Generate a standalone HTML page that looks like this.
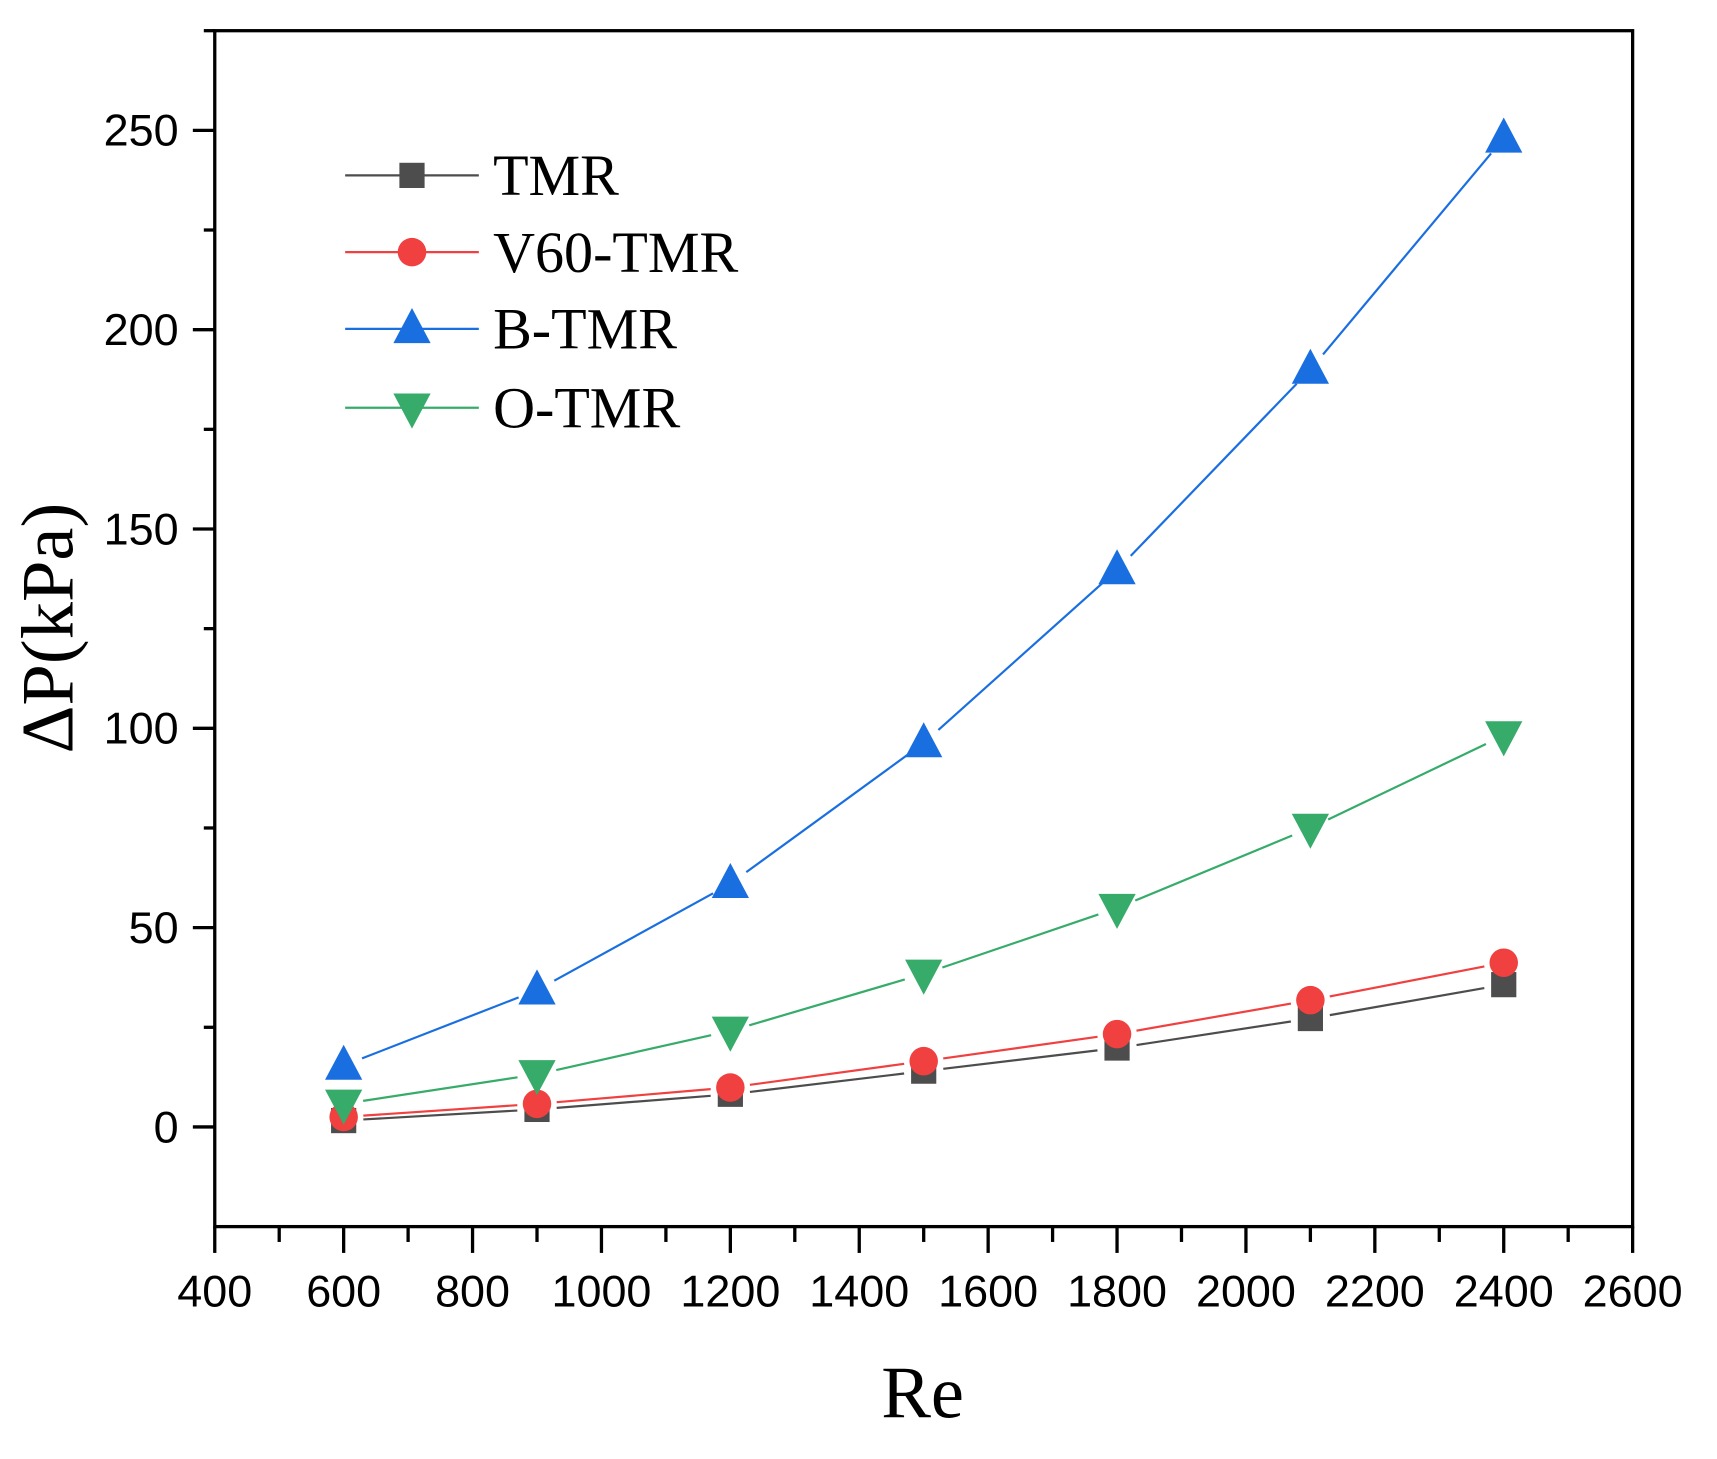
<!DOCTYPE html>
<html><head><meta charset="utf-8"><style>
html,body{margin:0;padding:0;background:#fff}
svg{display:block}
</style></head><body>
<svg id="chart" width="1717" height="1459" viewBox="0 0 1567 1331" preserveAspectRatio="none" xmlns="http://www.w3.org/2000/svg">
<rect width="1567" height="1331" fill="#fff"/>
<g id="axes"></g>
<g id="series"></g>
<g id="legend"></g>
<text x="842" y="1293" font-family="Liberation Serif, serif" font-size="68" text-anchor="middle">Re</text>
<text transform="translate(66,573) rotate(-90)" font-family="Liberation Serif, serif" font-size="68" text-anchor="middle">ΔP(kPa)</text>
</svg>
<script>
const categories = [600, 900, 1200, 1500, 1800, 2100, 2400];
const tmrValues = [1.6, 4.4, 8.2, 14.0, 19.8, 27.2, 35.7];
const v60Values = [2.5, 5.8, 9.9, 16.5, 23.3, 31.8, 41.2];
const bValues = [15.4, 34.3, 61.0, 96.3, 139.7, 190.0, 248.0];
const oValues = [5.8, 13.2, 24.1, 38.4, 54.9, 75.0, 98.2];
const xTickLabels = [400, 600, 800, 1000, 1200, 1400, 1600, 1800, 2000, 2200, 2400, 2600];
const yTickLabels = [0, 50, 100, 150, 200, 250];

const NS = "http://www.w3.org/2000/svg";
const L = 196, R = 1490, T = 28, B = 1119;
const xMin = 400, xMax = 2600, yMin = -25, yMax = 275;
const xs = v => L + (v - xMin) / (xMax - xMin) * (R - L);
const ys = v => B - (v - yMin) / (yMax - yMin) * (B - T);
function mk(tag, attrs, parent) { const e = document.createElementNS(NS, tag); for (const k in attrs) e.setAttribute(k, attrs[k]); parent.appendChild(e); return e; }

const axes = document.getElementById('axes');
const frame = mk('rect', {x: L, y: T, width: R - L, height: B - T, fill: 'none', stroke: '#000', 'stroke-width': 3}, axes);


for (let v = 400; v <= 2600; v += 100) {
  const major = v % 200 === 0;
  const t = mk('line', {x1: xs(v), x2: xs(v), y1: B, y2: B + (major ? 24 : 14), stroke: '#000', 'stroke-width': 3}, axes);
  
  
}
xTickLabels.forEach(v => {
  const t = mk('text', {x: xs(v), y: 1192, 'font-family': 'Liberation Sans, sans-serif', 'font-size': 41, 'text-anchor': 'middle'}, axes);
  t.textContent = v;
  
  
});
for (let v = 0; v <= 275; v += 25) {
  const major = v % 50 === 0;
  const t = mk('line', {x1: L, x2: L - (major ? 20 : 10), y1: ys(v), y2: ys(v), stroke: '#000', 'stroke-width': 3}, axes);
  
  
}
yTickLabels.forEach(v => {
  const t = mk('text', {x: 163, y: ys(v) + 14, 'font-family': 'Liberation Sans, sans-serif', 'font-size': 41, 'text-anchor': 'end'}, axes);
  t.textContent = v;
  
  
});

function marker(parent, type, cx, cy, color) {
  let e;
  if (type === 'square') e = mk('rect', {x: cx - 11.5, y: cy - 11.5, width: 23, height: 23, fill: color}, parent);
  else if (type === 'circle') e = mk('circle', {cx: cx, cy: cy, r: 13, fill: color}, parent);
  else if (type === 'up') e = mk('polygon', {points: `${cx},${cy - 19} ${cx - 17},${cy + 13} ${cx + 17},${cy + 13}`, fill: color}, parent);
  else e = mk('polygon', {points: `${cx},${cy + 19} ${cx - 17},${cy - 13} ${cx + 17},${cy - 13}`, fill: color}, parent);
  return e;
}
const seriesDefs = [
  {name: 'TMR', vals: tmrValues, color: '#4d4d4d', m: 'square', slug: 'tmr'},
  {name: 'V60-TMR', vals: v60Values, color: '#f04040', m: 'circle', slug: 'v60-tmr'},
  {name: 'B-TMR', vals: bValues, color: '#1a6fe0', m: 'up', slug: 'b-tmr'},
  {name: 'O-TMR', vals: oValues, color: '#36ab6a', m: 'down', slug: 'o-tmr'}
];
const sg = document.getElementById('series');
seriesDefs.forEach(s => {
  const g = mk('g', {}, sg);
  
  
  for (let i = 0; i < categories.length - 1; i++) {
    const x1 = xs(categories[i]), y1 = ys(s.vals[i]), x2 = xs(categories[i + 1]), y2 = ys(s.vals[i + 1]);
    const d = Math.hypot(x2 - x1, y2 - y1), gap = 18;
    const ux = (x2 - x1) / d, uy = (y2 - y1) / d;
    const ln = mk('line', {x1: x1 + ux * gap, y1: y1 + uy * gap, x2: x2 - ux * gap, y2: y2 - uy * gap, stroke: s.color, 'stroke-width': 2}, g);
    
    
  }
  categories.forEach((c, i) => {
    const m = marker(g, s.m, xs(c), ys(s.vals[i]), s.color);
    
    
  });
});
const lg = document.getElementById('legend');
const legendY = [160, 230, 300, 372];
seriesDefs.forEach((s, i) => {
  const g = mk('g', {}, lg);
  
  
  mk('line', {x1: 315, x2: 437, y1: legendY[i], y2: legendY[i], stroke: s.color, 'stroke-width': 2}, g);
  marker(g, s.m, 376, legendY[i], s.color);
  const t = mk('text', {x: 450, y: legendY[i] + 18, 'font-family': 'Liberation Serif, serif', 'font-size': 53}, g);
  t.textContent = s.name;
});
</script>
</body></html>
